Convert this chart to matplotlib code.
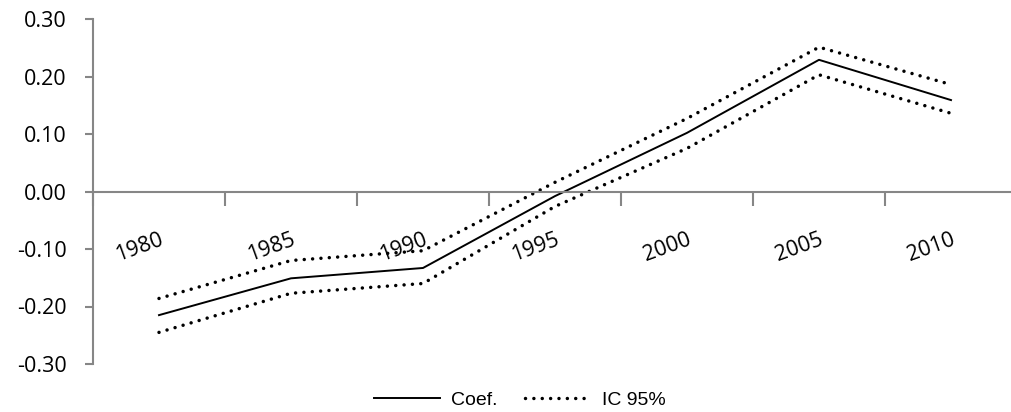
import matplotlib
matplotlib.use("Agg")
import matplotlib.pyplot as plt

# data
years = ["1980", "1985", "1990", "1995", "2000", "2005", "2010"]
coef = [-0.215, -0.151, -0.133, -0.008, 0.102, 0.229, 0.159]
ic_upper = [-0.186, -0.120, -0.103, 0.016, 0.127, 0.251, 0.186]
ic_lower = [-0.245, -0.177, -0.160, -0.026, 0.075, 0.203, 0.136]
y_ticks = [-0.3, -0.2, -0.1, 0.0, 0.1, 0.2, 0.3]

axis_gray = "#868686"
plt.rcParams["font.family"] = ["Open Sans", "DejaVu Sans"]

fig = plt.figure(figsize=(10.11, 4.12), dpi=100)
ax = fig.add_axes([93 / 1011, 48 / 412, 924 / 1011, 345 / 412])

x = list(range(len(years)))
dots = (0, (0.01, 2.4))
ax.plot(x, coef, color="black", lw=1.4, label="Coef.")
ax.plot(x, ic_upper, color="black", lw=2.5, linestyle=dots,
        dash_capstyle="round", label="IC 95%")
ax.plot(x, ic_lower, color="black", lw=2.5, linestyle=dots,
        dash_capstyle="round")

ax.set_xlim(-0.5, len(years) - 0.5)
ax.set_ylim(-0.3, 0.3)

# spines like an Excel line chart: category axis crosses at zero
for side in ["top", "right"]:
    ax.spines[side].set_visible(False)
ax.spines["bottom"].set_position(("data", 0))
ax.spines["bottom"].set_color(axis_gray)
ax.spines["left"].set_color(axis_gray)
ax.spines["bottom"].set_linewidth(1.5)
ax.spines["left"].set_linewidth(1.5)

ax.set_yticks(y_ticks)
ax.set_yticklabels([f"{v:.2f}" for v in y_ticks])
ax.tick_params(axis="y", direction="out", length=6, width=1.5,
               color=axis_gray, labelsize=15.5, pad=13)

# category boundaries get tick marks, labels sit under category centres
ax.set_xticks([i - 0.5 for i in range(len(years) + 1)])
ax.set_xticklabels([])
ax.set_xticks(x, minor=True)
ax.set_xticklabels(years, minor=True)
ax.tick_params(axis="x", which="major", direction="out", length=10,
               width=1.5, color=axis_gray)
ax.tick_params(axis="x", which="minor", length=0, labelsize=15.5, pad=27)
for lbl in ax.get_xticklabels(minor=True):
    lbl.set_rotation(20)
    lbl.set_ha("right")
    lbl.set_rotation_mode("anchor")

ax.legend(loc="center", bbox_to_anchor=(0.462, -0.105), ncol=2,
          frameon=False, handlelength=3.4, handletextpad=0.55,
          columnspacing=1.45, borderpad=0,
          prop={"family": "Liberation Sans", "size": 14})

fig.savefig("out.png", dpi=100)
